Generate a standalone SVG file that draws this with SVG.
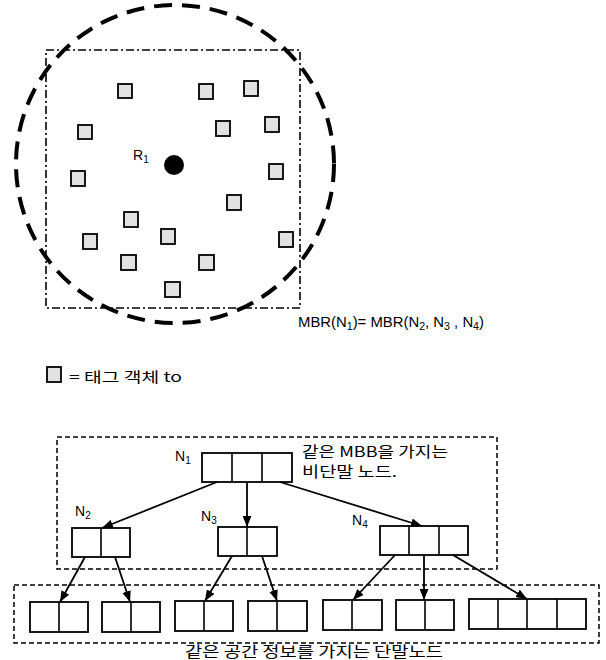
<svg xmlns="http://www.w3.org/2000/svg" width="606" height="660" viewBox="0 0 606 660">
<defs>
<style>
.t{font-family:"Liberation Sans","Noto Sans CJK KR",sans-serif;fill:#000}
.k{font-family:"Noto Sans CJK KR","Liberation Sans",sans-serif;fill:#000}
.sq{fill:#e2e2e2;stroke:#000;stroke-width:1.8}
.cell{fill:#fff;stroke:#000;stroke-width:1.8}
.div{stroke:#000;stroke-width:1.6}
.box{fill:none;stroke:#000;stroke-width:1.5;stroke-dasharray:5 3}
.edge{stroke:#000;stroke-width:1.8;fill:none;marker-end:url(#ah)}
</style>
<marker id="ah" viewBox="0 0 10 8" refX="10" refY="4" markerWidth="11" markerHeight="9" markerUnits="userSpaceOnUse" orient="auto">
<path d="M0,0 L10,4 L0,8 z" fill="#000"/>
</marker>
</defs>
<rect width="606" height="660" fill="#fff"/>

<g id="mbr-rect">
<rect x="46" y="50" width="254" height="258" fill="none" stroke="#000" stroke-width="1.6" stroke-dasharray="8 3 2 3"/>
</g>
<g id="circle">
<circle cx="175" cy="164" r="159" fill="none" stroke="#000" stroke-width="4" stroke-dasharray="18 10"/>
</g>
<g id="objects">
<rect class="sq" x="118" y="84" width="14" height="14"/>
<rect class="sq" x="199" y="84" width="14" height="15"/>
<rect class="sq" x="244" y="81" width="14" height="15"/>
<rect class="sq" x="78" y="125" width="14" height="14"/>
<rect class="sq" x="216" y="121" width="14" height="15"/>
<rect class="sq" x="265" y="117" width="14" height="15"/>
<rect class="sq" x="71" y="171" width="14" height="15"/>
<rect class="sq" x="269" y="164" width="14" height="15"/>
<rect class="sq" x="227" y="195" width="14" height="15"/>
<rect class="sq" x="124" y="212" width="14" height="15"/>
<rect class="sq" x="83" y="234" width="14" height="15"/>
<rect class="sq" x="161" y="229" width="14" height="15"/>
<rect class="sq" x="279" y="232" width="14" height="15"/>
<rect class="sq" x="121" y="255" width="15" height="15"/>
<rect class="sq" x="199" y="255" width="15" height="15"/>
<rect class="sq" x="165" y="282" width="15" height="15"/>
</g>
<g id="R1">
<circle cx="174" cy="165" r="10" fill="#000"/>
<text class="t" x="133" y="160" font-size="14">R<tspan font-size="10" dy="3">1</tspan></text>
</g>
<g id="mbr-label">
<text class="t" x="298" y="327" font-size="14" textLength="186" lengthAdjust="spacingAndGlyphs">MBR(N<tspan font-size="10" dy="3">1</tspan><tspan dy="-3">)= MBR(N</tspan><tspan font-size="10" dy="3">2</tspan><tspan dy="-3">, N</tspan><tspan font-size="10" dy="3">3</tspan><tspan dy="-3"> , N</tspan><tspan font-size="10" dy="3">4</tspan><tspan dy="-3">)</tspan></text>
</g>
<g id="legend">
<rect class="sq" x="47" y="367" width="14" height="15"/>
<text class="k" x="69" y="382" font-size="14" textLength="113" lengthAdjust="spacingAndGlyphs">= 태그 객체 to</text>
</g>

<g id="box-nonleaf">
<rect class="box" x="57" y="437" width="440" height="132"/>
<text class="k" x="302" y="457" font-size="15" textLength="146" lengthAdjust="spacingAndGlyphs">같은 MBB을 가지는</text>
<text class="k" x="302" y="477" font-size="15" textLength="95" lengthAdjust="spacingAndGlyphs">비단말 노드.</text>
</g>
<g id="box-leaf">
<rect class="box" x="14" y="585" width="585" height="58"/>
<text class="k" x="185" y="657" font-size="15" textLength="258" lengthAdjust="spacingAndGlyphs">같은 공간 정보를 가지는 단말노드</text>
</g>

<g id="N1">
<rect class="cell" x="202" y="453" width="90" height="29"/>
<line class="div" x1="232" y1="453" x2="232" y2="482"/>
<line class="div" x1="262" y1="453" x2="262" y2="482"/>
<text class="t" x="175" y="461" font-size="14">N<tspan font-size="10" dy="3">1</tspan></text>
</g>
<g id="N2">
<rect class="cell" x="72" y="528" width="58" height="29"/>
<line class="div" x1="101" y1="528" x2="101" y2="557"/>
<text class="t" x="75" y="516" font-size="14">N<tspan font-size="10" dy="3">2</tspan></text>
</g>
<g id="N3">
<rect class="cell" x="218" y="527" width="59" height="29"/>
<line class="div" x1="247" y1="527" x2="247" y2="556"/>
<text class="t" x="201" y="521" font-size="14">N<tspan font-size="10" dy="3">3</tspan></text>
</g>
<g id="N4">
<rect class="cell" x="380" y="526" width="88" height="29"/>
<line class="div" x1="409" y1="526" x2="409" y2="555"/>
<line class="div" x1="439" y1="526" x2="439" y2="555"/>
<text class="t" x="352" y="525" font-size="14">N<tspan font-size="10" dy="3">4</tspan></text>
</g>

<g id="L1"><rect class="cell" x="30" y="602" width="58" height="30"/><line class="div" x1="59" y1="602" x2="59" y2="632"/></g>
<g id="L2"><rect class="cell" x="102" y="602" width="58" height="30"/><line class="div" x1="131" y1="602" x2="131" y2="632"/></g>
<g id="L3"><rect class="cell" x="175" y="601" width="58" height="30"/><line class="div" x1="204" y1="601" x2="204" y2="631"/></g>
<g id="L4"><rect class="cell" x="248" y="601" width="59" height="30"/><line class="div" x1="277" y1="601" x2="277" y2="631"/></g>
<g id="L5"><rect class="cell" x="323" y="600" width="59" height="30"/><line class="div" x1="352" y1="600" x2="352" y2="630"/></g>
<g id="L6"><rect class="cell" x="396" y="600" width="58" height="30"/><line class="div" x1="425" y1="600" x2="425" y2="630"/></g>
<g id="L7"><rect class="cell" x="469" y="599" width="117" height="30"/><line class="div" x1="498" y1="599" x2="498" y2="629"/><line class="div" x1="527" y1="599" x2="527" y2="629"/><line class="div" x1="557" y1="599" x2="557" y2="629"/></g>

<g id="connectors">
<line class="edge" x1="217" y1="482" x2="102" y2="528"/>
<line class="edge" x1="247" y1="482" x2="247" y2="527"/>
<line class="edge" x1="280" y1="482" x2="422" y2="526"/>
<line class="edge" x1="85" y1="557" x2="60" y2="602"/>
<line class="edge" x1="115" y1="557" x2="130" y2="602"/>
<line class="edge" x1="232" y1="556" x2="205" y2="601"/>
<line class="edge" x1="262" y1="556" x2="277" y2="601"/>
<line class="edge" x1="395" y1="555" x2="353" y2="600"/>
<line class="edge" x1="424" y1="555" x2="424" y2="600"/>
<line class="edge" x1="453" y1="555" x2="527" y2="599"/>
</g>
</svg>
